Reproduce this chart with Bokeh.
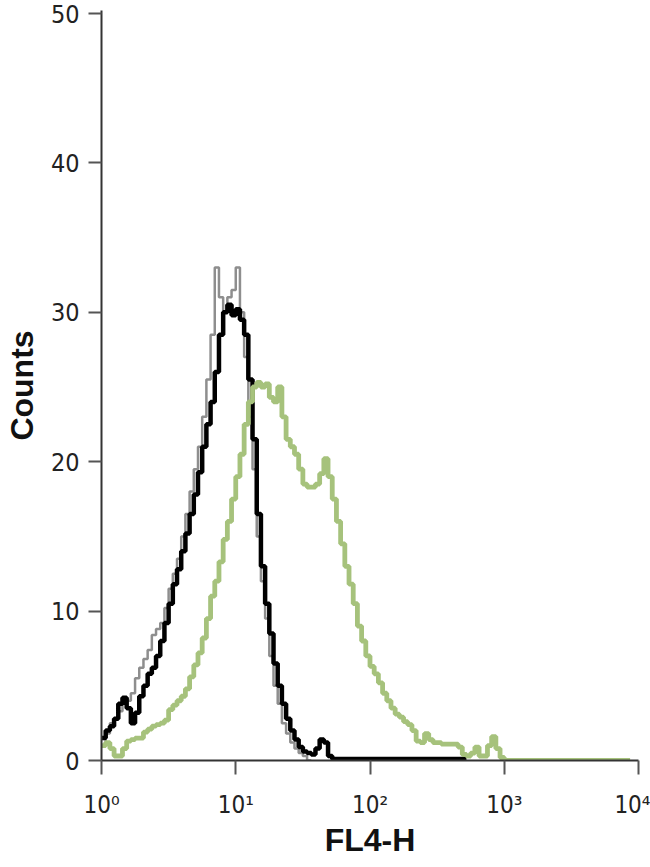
from bokeh.plotting import figure
from bokeh.models import Range1d, FixedTicker
from bokeh.embed import file_html
from bokeh.resources import INLINE

# ---- data ----
BINS_PER_DECADE = 32          # histogram channels on the log axis
X_TICKS = [1, 10, 100, 1000, 10000]
X_TICK_LABELS = ["10\u2070", "10\u00b9", "10\u00b2", "10\u00b3", "10\u2074"]
Y_TICKS = [0, 10, 20, 30, 40, 50]

GRAY = [1.0, 1.8, 2.5, 2.8, 3.3, 3.8, 4.0, 4.5, 5.5, 6.2, 6.8, 7.4, 8.4, 8.8,
        9.2, 10.2, 11.5, 12.5, 13.5, 15.0, 16.5, 18.0, 19.5, 21.0, 23.0, 25.5,
        28.5, 33.0, 31.0, 30.0, 31.0, 31.5, 33.0, 30.0, 27.0, 23.0, 19.5, 15.0,
        12.0, 9.5, 7.0, 5.0, 3.8, 2.5, 1.8, 1.2, 0.8, 0.5, 0.3, 0.0]

BLACK = [1.5, 2.0, 2.3, 2.8, 3.8, 4.2, 3.5, 2.5, 3.2, 4.3, 5.0, 5.8, 6.2, 7.0,
         8.0, 9.2, 10.5, 11.8, 12.8, 14.0, 15.2, 16.5, 17.8, 19.3, 21.0, 22.5,
         24.0, 26.0, 28.5, 30.0, 30.5, 29.8, 30.2, 29.5, 28.5, 25.5, 21.5, 16.5,
         13.0, 10.5, 8.5, 6.5, 5.0, 3.8, 2.8, 2.0, 1.4, 0.9, 0.6, 0.5, 0.4, 0.8,
         1.4, 1.2, 0.3, 0.1, 0.1, 0.1, 0.1, 0.1, 0.1, 0.1, 0.1, 0.1, 0.1, 0.1,
         0.1, 0.1, 0.1, 0.1, 0.1, 0.1, 0.1, 0.1, 0.1, 0.1, 0.1, 0.1, 0.1, 0.1,
         0.1, 0.1, 0.1, 0.1, 0.1, 0.1, 0.1]

GREEN = [1.0, 1.2, 0.8, 0.3, 0.3, 0.8, 1.3, 1.4, 1.5, 1.5, 1.9, 2.1, 2.3, 2.4,
         2.5, 2.7, 3.4, 3.7, 4.0, 4.3, 4.8, 5.6, 6.4, 7.2, 8.2, 9.5, 11.0, 12.0,
         13.3, 14.8, 16.0, 17.5, 19.0, 20.5, 22.5, 24.0, 25.0, 25.3, 25.0, 25.2,
         24.3, 24.0, 25.0, 23.0, 21.5, 21.0, 20.5, 19.5, 18.5, 18.3, 18.3, 18.5,
         19.2, 20.2, 19.0, 17.5, 16.0, 14.5, 13.0, 11.8, 10.5, 9.0, 8.0, 7.0,
         6.3, 5.8, 5.2, 4.5, 4.0, 3.5, 3.1, 2.9, 2.6, 2.4, 2.0, 1.3, 1.2, 1.8,
         1.4, 1.2, 1.2, 1.1, 1.1, 1.1, 1.1, 0.9, 0.4, 0.3, 0.5, 0.9, 0.3, 0.3,
         1.0, 1.6, 0.8, 0.2, 0.0, 0.0, 0.0, 0.0, 0.0, 0.0, 0.0, 0.0, 0.0, 0.0,
         0.0, 0.0, 0.0, 0.0, 0.0, 0.0, 0.0, 0.0, 0.0, 0.0, 0.0, 0.0, 0.0, 0.0,
         0.0, 0.0, 0.0, 0.0, 0.0, 0.0]


def step_xy(counts):
    edges = [10 ** (k / BINS_PER_DECADE) for k in range(len(counts) + 1)]
    return edges, list(counts) + [counts[-1]]


TICK_FONT = "'DejaVu Sans Condensed', 'Liberation Sans', sans-serif"

p = figure(width=650, height=867, x_axis_type="log",
           x_range=Range1d(1, 10000), y_range=Range1d(0, 50.2),
           output_backend="svg", toolbar_location=None,
           min_border_left=101, min_border_right=12,
           min_border_top=10, min_border_bottom=107)
p.outline_line_color = None
p.xgrid.visible = False
p.ygrid.visible = False

# curves
gx, gy = step_xy(GRAY)
p.step(gx, gy, mode="after", line_color="#8e8e8e", line_width=2.5)
bx, by = step_xy(BLACK)
p.step(bx, by, mode="after", line_color="#000000", line_width=4.5)
ex, ey = step_xy(GREEN)
p.step(ex, ey, mode="after", line_color="#a6c27c", line_width=4.8)

# axes
for ax in (p.xaxis, p.yaxis):
    ax.axis_line_color = "#333333"
    ax.axis_line_width = 2
    ax.major_tick_line_color = "#555555"
    ax.major_tick_line_width = 2
    ax.major_tick_in = 0
    ax.minor_tick_line_color = None
    ax.major_label_text_font = TICK_FONT
    ax.major_label_text_color = "#222222"

p.xaxis.ticker = FixedTicker(ticks=X_TICKS)
p.xaxis.major_label_overrides = {t: s for t, s in zip(X_TICKS, X_TICK_LABELS)}
p.xaxis.major_tick_out = 14
p.xaxis.major_label_standoff = 16
p.xaxis.major_label_text_font_size = "24px"

p.yaxis.ticker = FixedTicker(ticks=Y_TICKS)
p.yaxis.major_tick_out = 13
p.yaxis.major_label_standoff = 9
p.yaxis.major_label_text_font_size = "25px"

p.xaxis.axis_label = "FL4-H"
p.yaxis.axis_label = "Counts"
for ax in (p.xaxis, p.yaxis):
    ax.axis_label_text_font = "Liberation Sans"
    ax.axis_label_text_font_style = "bold"
    ax.axis_label_text_font_size = "32px"
    ax.axis_label_text_color = "#111111"
p.xaxis.axis_label_standoff = 0
p.yaxis.axis_label_standoff = 8

open("out.html", "w").write(file_html(p, INLINE))
